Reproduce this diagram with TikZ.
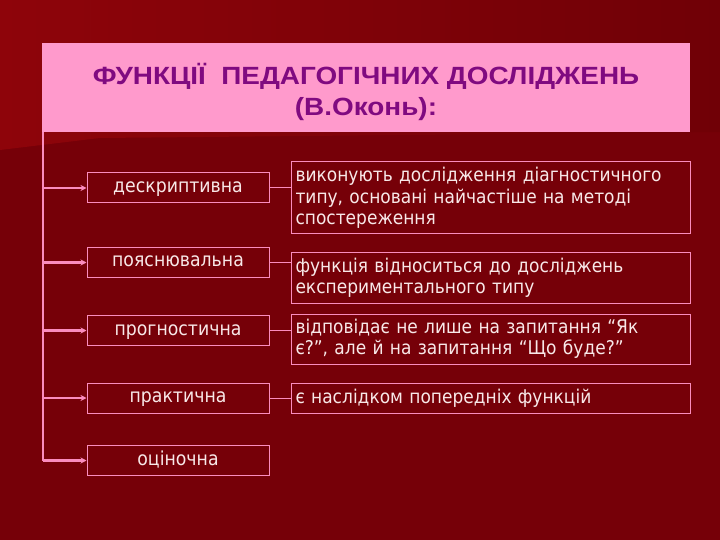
\documentclass[tikz,border=0pt]{standalone}
\usepackage{fontspec}
\setmainfont{DejaVu Sans}[FakeStretch=0.9]
\newfontfamily\headfont[FakeStretch=1.12]{Liberation Sans}
\usetikzlibrary{arrows.meta}

\definecolor{slidered}{RGB}{118,0,8}
\definecolor{slidetop}{RGB}{142,4,10}
\definecolor{slidedark}{RGB}{112,0,6}
\definecolor{headpink}{RGB}{255,154,204}
\definecolor{headtext}{RGB}{128,10,128}
\definecolor{linkpink}{RGB}{250,140,190}
\definecolor{boxtext}{RGB}{248,232,232}

\tikzset{
	kindbox/.style={draw=linkpink, line width=1bp, text=boxtext, inner sep=0pt,
		minimum width=182bp, minimum height=30bp, text height=13bp, text depth=4bp,
		font=\fontsize{19.3}{20}\selectfont},
	notebox/.style={draw=linkpink, line width=1bp, text=boxtext, anchor=west,
		inner xsep=4bp, inner ysep=2bp, minimum width=399bp, text width=391bp,
		align=left, font=\fontsize{19}{21.5}\selectfont},
	spine/.style={draw=linkpink, line width=2.5bp},
	feed/.style={draw=linkpink, line width=2.5bp, -{Stealth[length=6bp,width=6bp]}},
	link/.style={draw=linkpink, line width=1bp}
}

\begin{document}
\begin{tikzpicture}[x=1bp, y=-1bp]
		\useasboundingbox (0,0) rectangle (720,540);
		\fill[slidered] (0,0) rectangle (720,540);
		\shade[left color=slidetop, right color=slidedark]
			(0,0) -- (720,0) -- (720,132) -- (100,138) -- (0,150) -- cycle;

		% title
		\node[fill=headpink, minimum width=648bp, minimum height=89bp, inner sep=0pt]
			(head) at (366,87.5) {};
		\node[text=headtext, align=center, font=\headfont\bfseries\fontsize{25}{31}\selectfont]
			(headtxt) at (366,92) {ФУНКЦІЇ~ ПЕДАГОГІЧНИХ ДОСЛІДЖЕНЬ\\(В.Оконь):};

		% kinds of functions
		\node[kindbox] (desc) at (178,188) {дескриптивна};
		\node[kindbox] (expl) at (178,262.5) {пояснювальна};
		\node[kindbox] (prog) at (178,330.5) {прогностична};
		\node[kindbox] (prac) at (178,398) {практична};
		\node[kindbox] (eval) at (178,460.5) {оціночна};

		% notes
		\node[notebox, minimum height=72bp] (descnote) at (291,198)
			{виконують дослідження діагностичного\\типу, основані найчастіше на методі\\спостереження};
		\node[notebox, minimum height=50bp] (explnote) at (291,278)
			{функція відноситься до досліджень\\експериментального типу};
		\node[notebox, minimum height=50bp] (prognote) at (291,339)
			{відповідає не лише на запитання “Як\\є?”, але й на запитання “Що буде?”};
		\node[notebox, minimum height=30bp] (pracnote) at (291,398)
			{є наслідком попередніх функцій};

		\coordinate (top) at (43,132);
		\coordinate (bot) at (43,460.5);
		\draw[spine] (top) -- (bot);

		\foreach \k in {desc,expl,prog,prac,eval}
			\draw[feed] (top |- \k.west) -- (\k.west);

		\foreach \k in {desc,expl,prog,prac}
			\draw[link] (\k.east) -- (\k.east -| \k note.west);
	\end{tikzpicture}
\end{document}
